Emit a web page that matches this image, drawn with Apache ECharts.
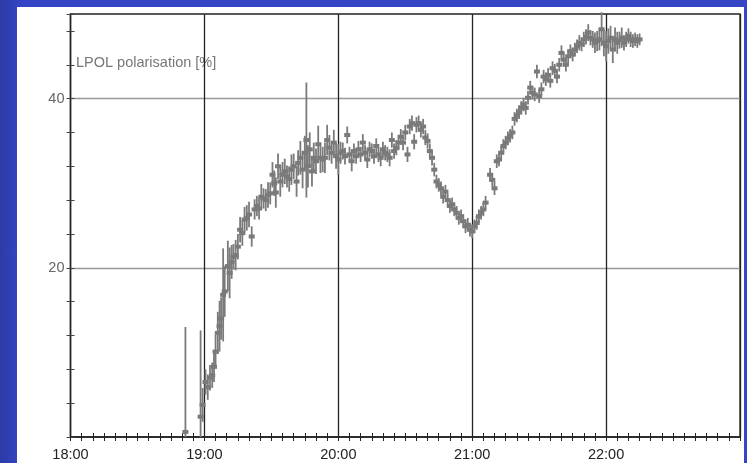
<!DOCTYPE html>
<html>
<head>
<meta charset="utf-8">
<script src="https://cdn.jsdelivr.net/npm/echarts@6/dist/echarts.min.js"></script>
<style>
  html, body { margin: 0; padding: 0; }
  #wrap { position: relative; width: 747px; height: 463px;
          background: linear-gradient(90deg, #2d3ba6 0%, #3446c6 3%, #3446c6 100%); overflow: hidden; }
  #panel { position: absolute; left: 17px; top: 7px; width: 727px; height: 456px; background: #ffffff; }
  #main { position: absolute; left: 0; top: 0; width: 747px; height: 463px; }
</style>
</head>
<body>
<div id="wrap"><div id="panel"></div><div id="main"></div></div>
<script>
// minutes after 18:00
const times = [
  51.5, 58.3, 59.2, 60.5, 61.5, 62.5, 63.5, 64.3, 65.0, 66.0, 66.8, 67.5, 68.4, 69.1,
  70.5, 71.3, 72.2, 73.0, 74.0, 75.0, 76.0, 77.0, 78.0, 79.0, 80.0, 81.2, 82.5, 83.5,
  84.5, 85.5, 86.5, 87.5, 88.5, 89.5, 90.5, 91.3, 92.0, 93.0, 94.0, 95.0, 96.0, 97.0,
  98.0, 99.0, 100.0, 101.3, 102.0, 103.0, 104.0, 105.0, 105.7, 106.4, 107.2, 108.2, 109.0,
  110.0, 111.0, 112.0, 113.0, 114.0, 115.0, 116.0, 117.0, 118.0, 119.0, 120.0, 121.0,
  122.0, 123.0, 124.0, 125.0, 126.0, 127.0, 128.0, 129.0, 130.0, 131.0, 132.0, 133.0,
  134.0, 135.0, 136.0, 137.0, 138.0, 139.0, 140.0, 141.0, 142.0, 143.0, 144.0, 145.0,
  146.0, 147.0, 148.0, 149.0, 150.0, 151.0, 152.0, 153.0, 154.0, 155.0, 156.0, 157.0,
  158.0, 159.0, 160.0, 161.0, 162.0, 163.0, 164.0, 165.0, 166.0, 167.0, 168.0, 169.0,
  170.0, 171.0, 172.0, 173.0, 174.0, 175.0, 176.0, 177.0, 178.0, 179.0, 180.0, 181.0,
  182.0, 183.0, 184.0, 185.0, 186.0, 188.0, 189.0, 190.0, 191.0, 192.0, 193.0, 194.0,
  195.0, 196.0, 197.0, 198.0, 199.0, 200.0, 201.0, 202.0, 203.0, 204.0, 205.0, 206.0,
  207.0, 208.0, 209.0, 210.0, 211.0, 212.0, 213.0, 214.0, 215.0, 216.0, 217.0, 218.0,
  219.0, 220.0, 221.0, 222.0, 223.0, 224.0, 225.0, 226.0, 227.0, 228.0, 229.0, 230.0,
  231.0, 232.0, 233.0, 234.0, 235.0, 236.0, 237.0, 238.0, 239.0, 240.0, 241.0, 242.0,
  243.0, 244.0, 245.0, 246.0, 247.0, 248.0, 249.0, 250.0, 251.0, 252.0, 253.0, 254.0, 255.0
];
const values = [
  0.6, 2.4, 3.8, 6.5, 5.9, 7.0, 7.3, 8.3, 10.1, 12.3, 13.1, 14.0, 16.8, 17.2,
  20.2, 19.4, 20.7, 21.3, 21.5, 22.5, 24.5, 24.1, 25.7, 25.9, 26.3, 23.7, 26.9, 27.3,
  27.0, 28.4, 28.2, 28.0, 28.6, 28.8, 31.0, 30.0, 28.9, 32.0, 30.2, 31.0, 31.4, 30.8,
  30.5, 31.6, 32.0, 30.2, 32.4, 33.0, 31.6, 33.6, 35.1, 32.0, 34.0, 31.4, 33.0,
  32.6, 34.6, 33.0, 32.8, 33.0, 35.1, 34.2, 33.6, 34.8, 33.2, 32.8, 33.6,
  33.8, 33.2, 35.7, 33.4, 32.6, 33.8, 33.2, 34.0, 33.4, 34.8, 33.6, 32.8,
  34.0, 33.8, 33.2, 34.4, 33.4, 33.0, 34.0, 33.6, 33.4, 33.0, 35.1, 33.8,
  34.2, 34.8, 35.5, 34.8, 36.0, 33.4, 36.7, 37.1, 34.9, 36.9, 37.1, 36.3,
  36.7, 35.4, 35.0, 33.8, 33.0, 31.6, 30.2, 29.8, 29.4, 28.4, 29.0, 28.0,
  27.3, 27.5, 26.9, 26.5, 25.9, 26.1, 25.5, 24.9, 25.1, 24.5, 24.3, 24.9,
  25.3, 26.1, 26.5, 26.9, 27.7, 31.0, 30.4, 29.4, 32.6, 32.8, 33.6, 34.4,
  34.8, 35.3, 35.6, 36.0, 37.6, 38.0, 38.4, 38.9, 39.3, 38.9, 40.1, 41.3,
  40.7, 40.5, 43.2, 40.3, 41.1, 42.6, 42.3, 42.8, 42.1, 43.6, 43.3, 42.6,
  44.0, 45.4, 44.6, 44.0, 45.0, 45.6, 45.2, 45.8, 46.2, 46.6, 46.4, 47.0,
  47.3, 47.8, 47.2, 47.0, 46.6, 46.8, 47.0, 48.2, 46.6, 46.2, 46.8, 47.2,
  45.8, 47.0, 46.6, 46.9, 47.2, 46.6, 47.0, 47.4, 47.0, 46.8, 47.0, 46.8, 47.0
];
const errors = [
  12.4, 10.2, 2.0, 1.5, 1.5, 1.5, 1.5, 1.8, 2.0, 2.5, 3.0, 2.5, 5.5, 3.0,
  3.0, 3.0, 2.0, 1.5, 1.8, 1.5, 1.5, 1.5, 1.5, 1.5, 1.5, 1.2, 1.2, 1.2,
  1.3, 1.5, 1.2, 1.3, 1.5, 1.3, 1.5, 1.5, 1.8, 1.5, 1.8, 1.5, 1.5, 1.3,
  1.5, 1.8, 1.5, 1.8, 1.5, 2.0, 2.2, 2.0, 6.8, 2.5, 2.0, 1.8, 1.8,
  1.5, 2.2, 1.8, 1.5, 1.8, 1.8, 1.5, 1.3, 1.5, 1.5, 1.8, 1.3,
  1.0, 1.0, 1.0, 0.9, 1.2, 0.9, 0.9, 1.0, 0.9, 1.0, 0.9, 1.0,
  0.9, 0.9, 0.9, 0.9, 0.9, 1.0, 0.9, 0.9, 0.9, 1.0, 0.9, 0.9,
  0.9, 0.9, 0.9, 0.9, 0.9, 0.9, 0.9, 0.9, 0.9, 0.9, 0.9, 0.9,
  0.9, 0.9, 0.9, 0.9, 0.9, 0.8, 0.8, 0.8, 0.8, 0.8, 0.8, 0.8,
  0.8, 0.8, 0.8, 0.8, 0.8, 0.8, 0.8, 0.8, 0.8, 0.8, 0.8, 0.8,
  0.8, 0.8, 0.8, 0.8, 0.8, 0.8, 0.8, 0.8, 0.8, 0.8, 0.8, 0.8,
  0.8, 0.8, 0.8, 0.8, 0.8, 0.8, 0.8, 0.8, 0.8, 0.8, 0.8, 0.8,
  0.8, 0.8, 0.8, 0.8, 0.8, 0.8, 0.8, 0.8, 0.8, 0.8, 0.8, 0.8,
  0.8, 0.9, 0.8, 0.8, 0.8, 0.8, 0.8, 0.8, 0.8, 0.9, 0.8, 0.9,
  0.9, 1.0, 0.9, 1.0, 1.2, 1.2, 1.3, 2.0, 1.6, 1.8, 1.5, 1.4,
  1.6, 1.4, 1.3, 1.0, 1.2, 0.9, 0.9, 0.9, 0.9, 0.8, 0.8, 0.8, 0.7
];
const hourLabels = ['18:00', '19:00', '20:00', '21:00', '22:00', ''];
const yLabels = [20, 40];

const data = times.map((t, i) => [t, values[i], errors[i]]);
const grey = '#7a7a7a';
const chart = echarts.init(document.getElementById('main'));

chart.setOption({
  backgroundColor: 'transparent',
  animation: false,
  textStyle: { fontFamily: 'Liberation Sans, Arial, sans-serif' },
  grid: { left: 70.5, right: 7, top: 14, bottom: 26, show: true,
          outerBoundsMode: 'none', containLabel: false,
          borderColor: '#222', borderWidth: 1.3, backgroundColor: 'transparent' },
  xAxis: [{
    type: 'value', min: 0, max: 300, interval: 60, position: 'bottom',
    axisLine: { lineStyle: { color: '#222', width: 1.5 } },
    axisTick: { length: 4, lineStyle: { color: '#222' } },
    minorTick: { show: true, splitNumber: 12, length: 4, lineStyle: { color: '#222' } },
    splitLine: { show: true, lineStyle: { color: '#222', width: 1.3 } },
    axisLabel: { color: '#222', fontSize: 14.5, margin: 10,
                 formatter: v => hourLabels[Math.round(v / 60)] || '' }
  }, {
    type: 'value', min: 0, max: 300, interval: 5, position: 'bottom',
    axisLine: { show: false },
    axisTick: { inside: true, length: 4, lineStyle: { color: '#222' } },
    splitLine: { show: false }, axisLabel: { show: false }
  }],
  yAxis: [{
    type: 'value', min: 0, max: 50, interval: 4, position: 'left',
    axisLine: { show: true, lineStyle: { color: '#222', width: 1.3 } },
    axisTick: { show: true, length: 4, lineStyle: { color: '#444' } },
    splitLine: { show: false },
    axisLabel: { color: '#666', fontSize: 14.5, margin: 6,
                 formatter: v => (yLabels.indexOf(v) >= 0 ? String(v) : '') }
  }, {
    type: 'value', min: 0, max: 50, interval: 4, position: 'left',
    axisLine: { show: false },
    axisTick: { show: true, inside: true, length: 4, lineStyle: { color: '#444' } },
    splitLine: { show: false }, axisLabel: { show: false }
  }, {
    type: 'value', min: 0, max: 50, interval: 20, position: 'left',
    axisLine: { show: false }, axisTick: { show: false }, axisLabel: { show: false },
    splitLine: { show: true, showMinLine: false, showMaxLine: false,
                 lineStyle: { color: '#999', width: 1.3 } }
  }],
  graphic: [{
    type: 'text', left: 76, top: 55,
    style: { text: 'LPOL polarisation [%]', fill: '#777', fontSize: 14.5,
             fontFamily: 'Liberation Sans, Arial, sans-serif' }
  }],
  series: [{
    type: 'custom',
    xAxisIndex: 0, yAxisIndex: 0,
    data: data,
    encode: { x: 0, y: 1 },
    renderItem: function (params, api) {
      const x = api.value(0), y = api.value(1), e = api.value(2);
      const top = api.coord([x, y + e]);
      const bot = api.coord([x, Math.max(0, y - e)]);
      const c = api.coord([x, y]);
      return {
        type: 'group',
        children: [
          { type: 'line', shape: { x1: top[0], y1: top[1], x2: bot[0], y2: bot[1] },
            style: { stroke: grey, lineWidth: 1.8 } },
          { type: 'rect', shape: { x: c[0] - 3, y: c[1] - 2, width: 6, height: 4 },
            style: { fill: grey } }
        ]
      };
    }
  }]
});
</script>
</body>
</html>
